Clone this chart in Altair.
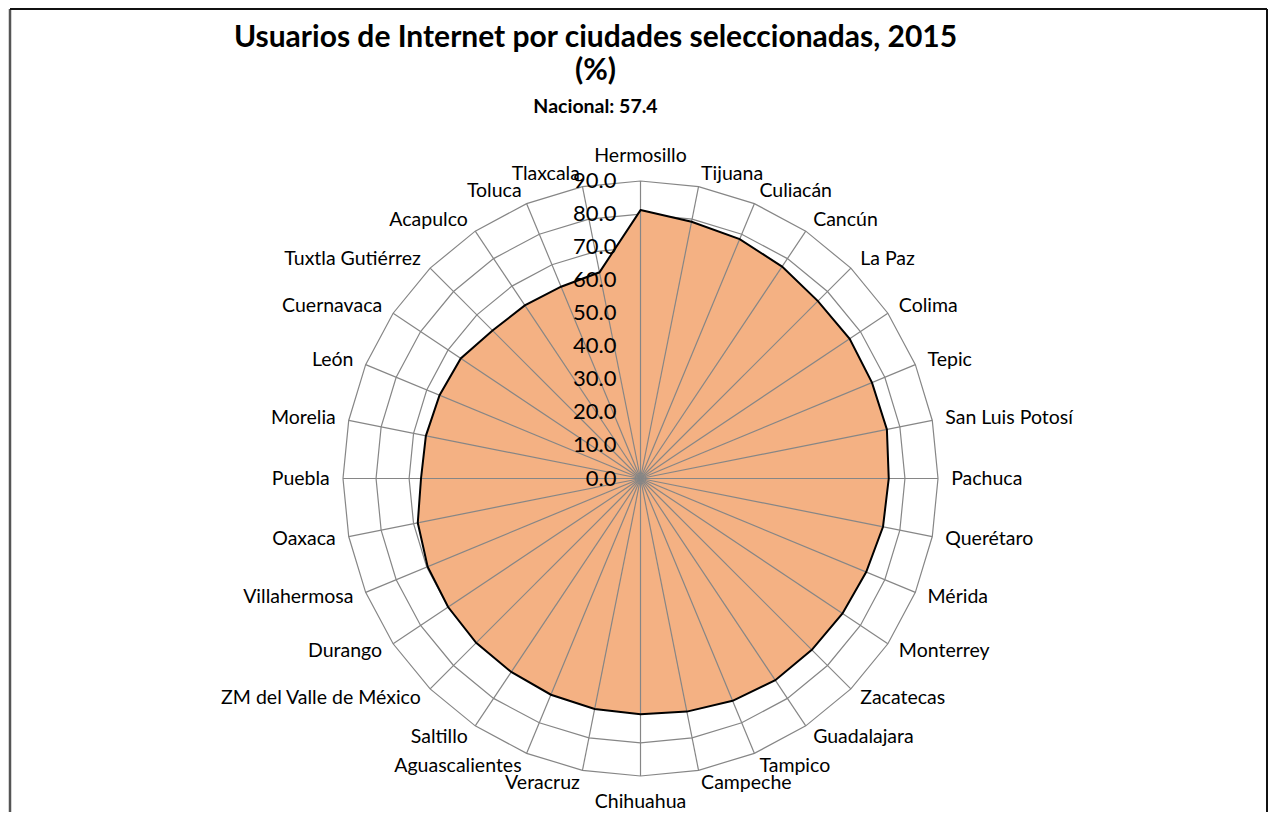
import altair as alt
import pandas as pd

cities = ["Hermosillo", "Tijuana", "Culiacán", "Cancún", "La Paz", "Colima", "Tepic",
          "San Luis Potosí", "Pachuca", "Querétaro", "Mérida", "Monterrey", "Zacatecas",
          "Guadalajara", "Tampico", "Campeche", "Chihuahua", "Veracruz", "Aguascalientes",
          "Saltillo", "ZM del Valle de México", "Durango", "Villahermosa", "Oaxaca", "Puebla",
          "Morelia", "León", "Cuernavaca", "Tuxtla Gutiérrez", "Acapulco", "Toluca", "Tlaxcala"]
values = [81.2, 79.2, 78.4, 77.1, 75.9, 76.1, 75.8, 76.0, 75.1, 74.8, 73.9, 73.5, 73.3,
          73.4, 72.8, 71.9, 71.3, 71.1, 70.8, 70.4, 70.3, 70.0, 69.7, 68.7, 66.4,
          66.2, 65.8, 65.4, 63.3, 63.0, 62.8, 63.6]
ticks = [0, 10, 20, 30, 40, 50, 60, 70, 80, 90]

title_lines = ["Usuarios de Internet por ciudades seleccionadas, 2015", "(%)"]
subtitle = "Nacional: 57.4"

N = len(cities)
RMAX = ticks[-1]
LABEL_R = 94

pts = pd.DataFrame({"city": cities, "value": values, "idx": list(range(N))})
rings = pd.DataFrame([{"level": t, "idx": i} for t in ticks if t > 0 for i in range(N)])
tick_df = pd.DataFrame({"level": ticks})
frame_df = pd.DataFrame({"a": [0]})

FONT = "Lato"
GRID = "#868686"

xs = alt.Scale(domain=[-RMAX, RMAX], nice=False, zero=False)
ys = alt.Scale(domain=[-RMAX, RMAX], nice=False, zero=False)

ang = f"datum.idx * 2 * PI / {N}"

base = alt.Chart(pts).transform_calculate(
    angle=ang,
    px=f"datum.value * sin({ang})",
    py=f"datum.value * cos({ang})",
    sx=f"{RMAX} * sin({ang})",
    sy=f"{RMAX} * cos({ang})",
    lx=f"{LABEL_R} * sin({ang})",
    ly=f"{LABEL_R} * cos({ang})",
    zero="0",
)

ring_layer = alt.Chart(rings).transform_calculate(
    px=f"datum.level * sin({ang})",
    py=f"datum.level * cos({ang})",
).mark_line(interpolate="linear-closed", stroke=GRID, strokeWidth=1.2).encode(
    x=alt.X("px:Q", scale=xs, axis=None),
    y=alt.Y("py:Q", scale=ys, axis=None),
    detail="level:N",
    order="idx:Q",
)

fill_layer = base.mark_line(interpolate="linear-closed", fill="#F4B183", strokeOpacity=0).encode(
    x=alt.X("px:Q", scale=xs, axis=None),
    y=alt.Y("py:Q", scale=ys, axis=None),
    order="idx:Q",
)

spokes = base.mark_rule(color=GRID, strokeWidth=1.2).encode(
    x=alt.X("zero:Q", scale=xs, axis=None),
    y=alt.Y("zero:Q", scale=ys, axis=None),
    x2="sx:Q",
    y2="sy:Q",
)

outline = base.mark_line(interpolate="linear-closed", stroke="black", strokeWidth=2).encode(
    x=alt.X("px:Q", scale=xs, axis=None),
    y=alt.Y("py:Q", scale=ys, axis=None),
    order="idx:Q",
)

def label_layer(cond, align, baseline, dy=0):
    return base.transform_filter(cond).mark_text(
        font=FONT, fontSize=19.5, color="black", align=align, baseline=baseline, dy=dy
    ).encode(
        x=alt.X("lx:Q", scale=xs, axis=None),
        y=alt.Y("ly:Q", scale=ys, axis=None),
        text="city:N",
    )

lab_top = label_layer(f"datum.idx == 0", "center", "bottom", -2)
lab_bot = label_layer(f"datum.idx == {N // 2}", "center", "top", 4)
lab_right = label_layer(f"datum.idx > 0 && datum.idx < {N // 2}", "left", "middle")
lab_left = label_layer(f"datum.idx > {N // 2}", "right", "middle")

tick_labels = alt.Chart(tick_df).transform_calculate(zero="0").mark_text(
    font=FONT, fontSize=22, color="black", align="right", baseline="middle", dx=-24
).encode(
    x=alt.X("zero:Q", scale=xs, axis=None),
    y=alt.Y("level:Q", scale=ys, axis=None),
    text=alt.Text("level:Q", format=".1f"),
)

frame_left = alt.Chart(frame_df).mark_rule(color="#555555", strokeWidth=2.5).encode(
    x=alt.value(-333), y=alt.value(-172), y2=alt.value(640)
)
frame_right = alt.Chart(frame_df).mark_rule(color="#111111", strokeWidth=2).encode(
    x=alt.value(924), y=alt.value(-172), y2=alt.value(640)
)
frame_top = alt.Chart(frame_df).mark_rule(color="#111111", strokeWidth=2).encode(
    x=alt.value(-333), x2=alt.value(924), y=alt.value(-172)
)

chart = alt.layer(
    ring_layer, fill_layer, spokes, outline,
    lab_top, lab_bot, lab_right, lab_left, tick_labels,
    frame_left, frame_right, frame_top,
).properties(
    width=595, height=595,
    autosize="none",
    padding={"left": 335, "top": 173, "right": 331, "bottom": 36},
    title=alt.TitleParams(
        text=title_lines, subtitle=subtitle,
        font=FONT, fontSize=30, fontWeight="bold", color="black", lineHeight=33,
        subtitleFont=FONT, subtitleFontSize=19.5, subtitleFontWeight="bold", subtitleColor="black",
        subtitlePadding=12,
        anchor="middle", frame="group", dx=-45, offset=-109,
    ),
).configure_view(stroke=None)

chart.save("out.html", embed_options={"renderer": "svg", "actions": False})
